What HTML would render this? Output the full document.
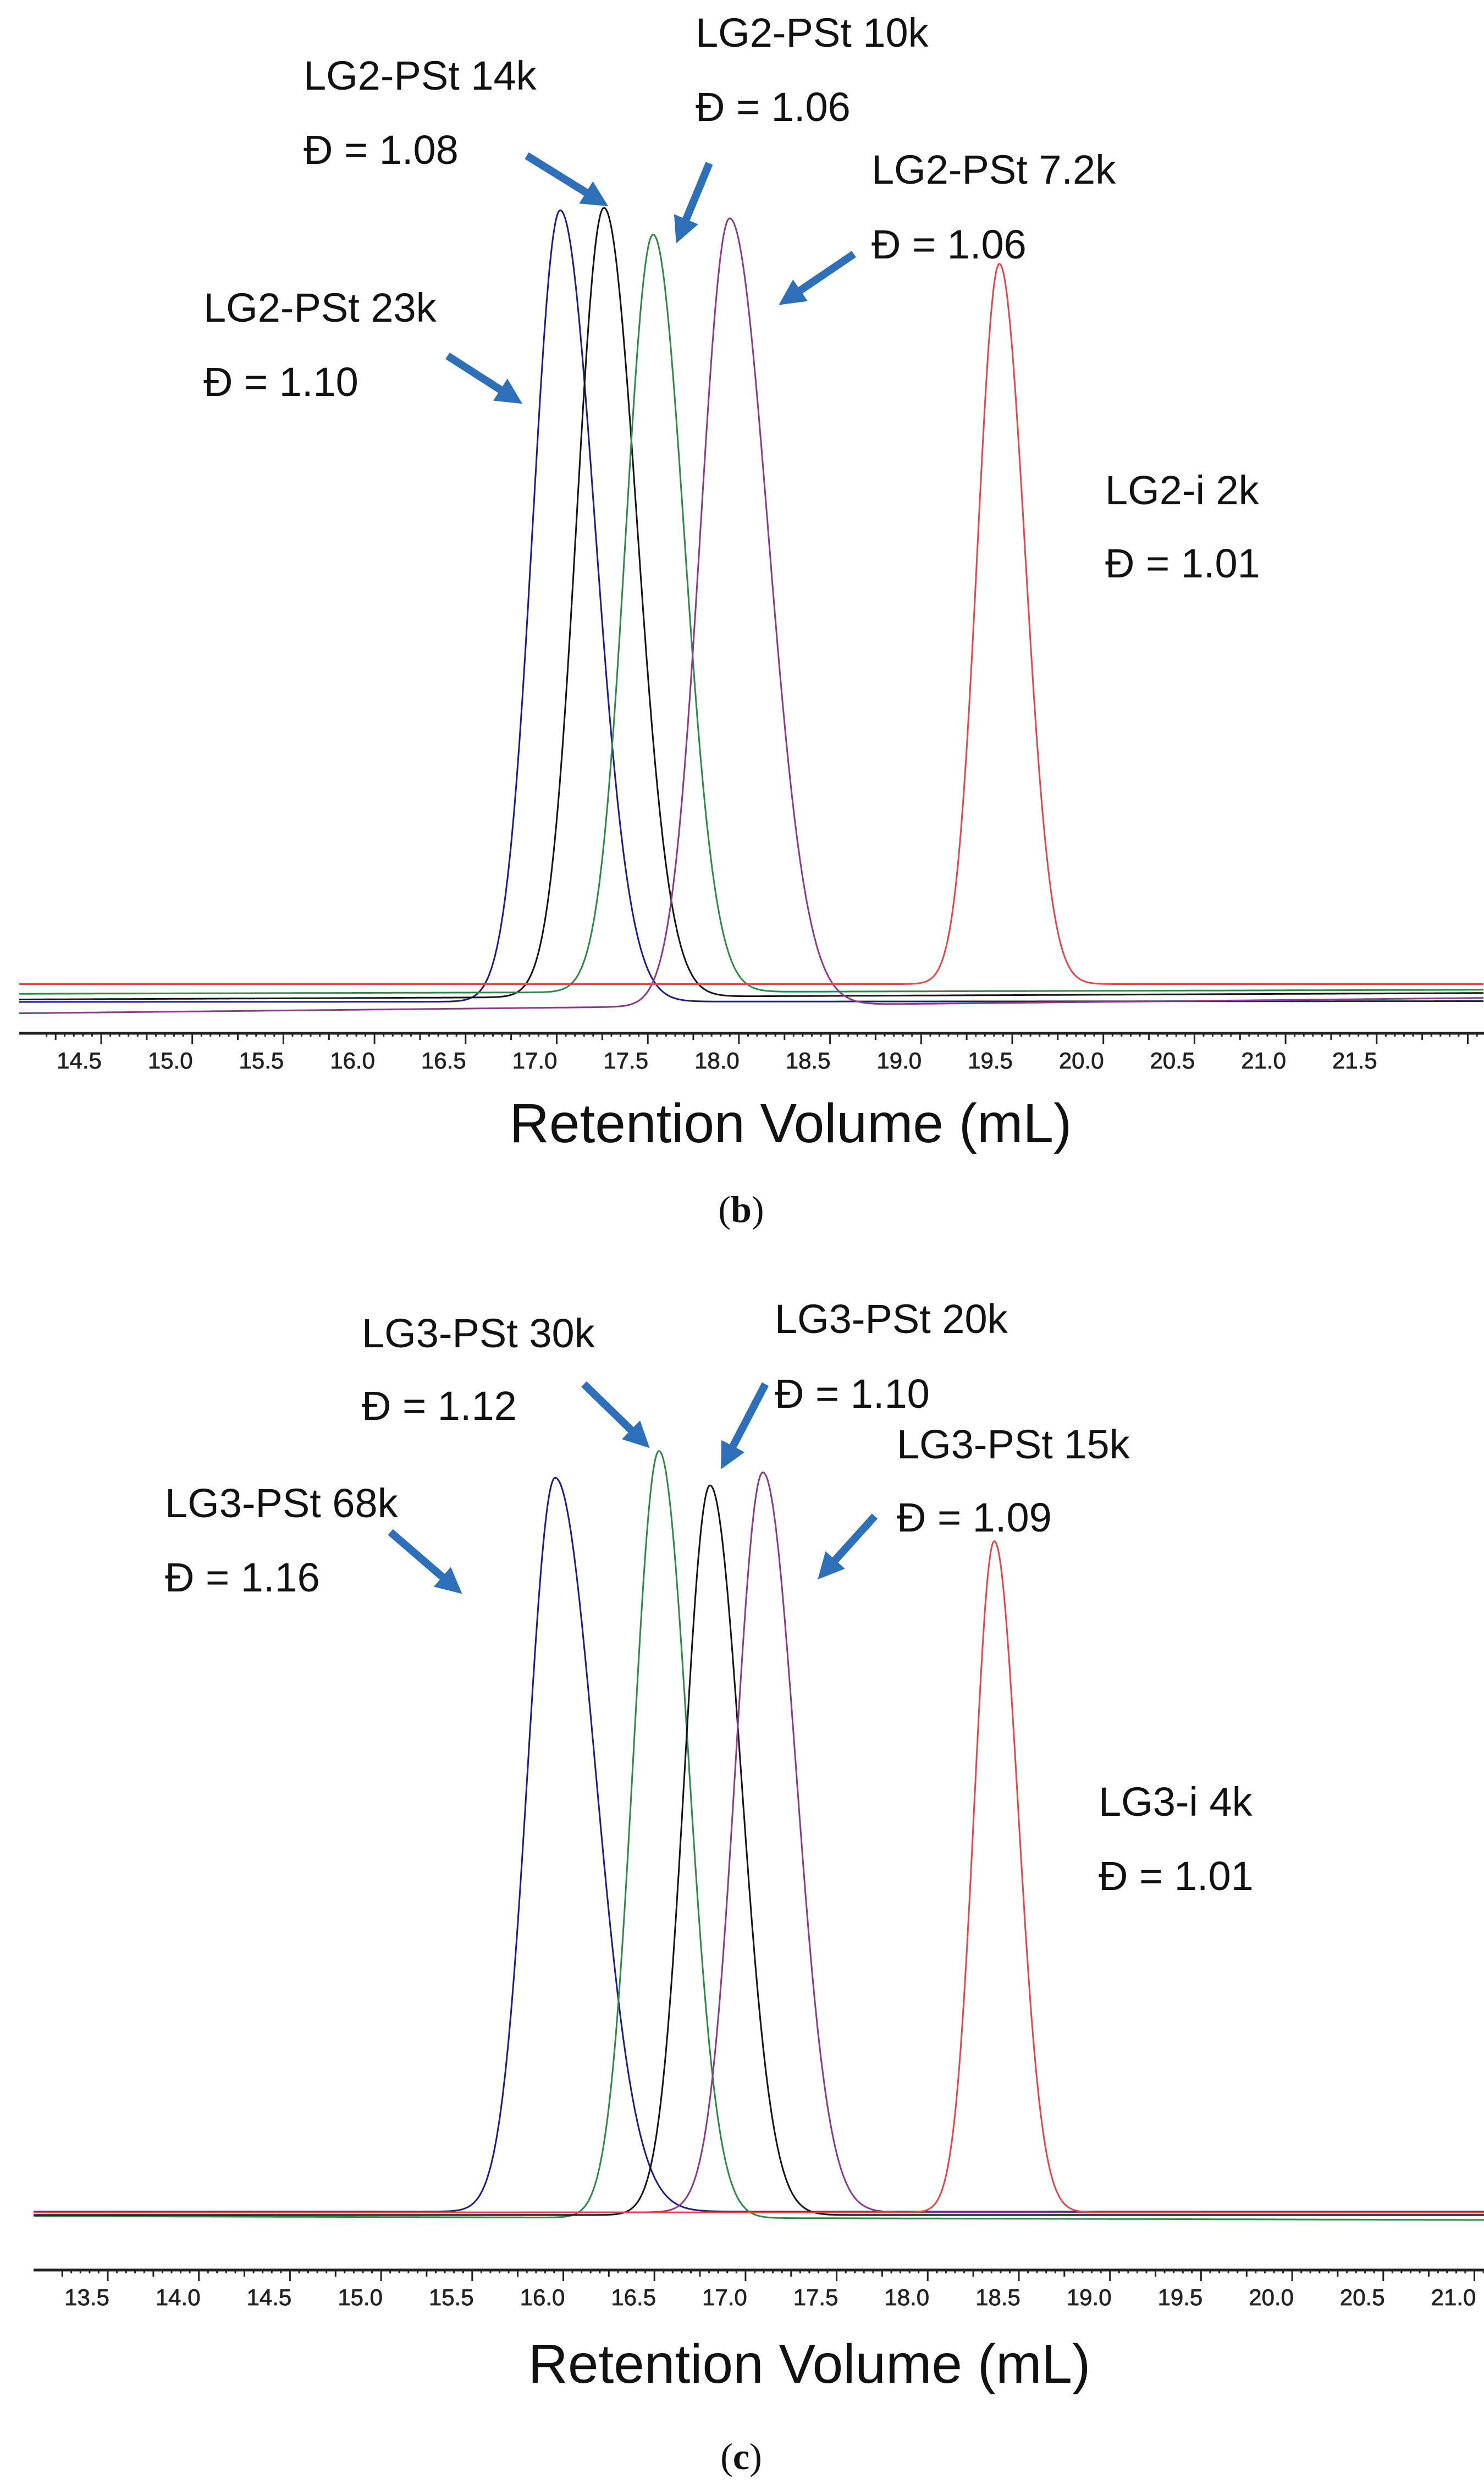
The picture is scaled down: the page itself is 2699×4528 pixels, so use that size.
<!DOCTYPE html>
<html><head><meta charset="utf-8">
<style>
html,body{margin:0;padding:0;background:#fff;}
svg{display:block;}
text{font-family:"Liberation Sans",sans-serif;}
</style></head>
<body>
<svg id="fig" width="2699" height="4528" viewBox="0 0 2699 4528" xmlns="http://www.w3.org/2000/svg">
<defs>
<marker id="ah" viewBox="0 0 10 10" refX="6" refY="5" markerWidth="3.4" markerHeight="3.4" orient="auto" markerUnits="strokeWidth">
<path d="M0,0 L10,5 L0,10 z" fill="#2e6fba"/>
</marker>
</defs>
<g id="panelB"></g>
<g id="panelC"></g>

<g font-size="74" fill="#111">
<text x="552" y="163">LG2-PSt 14k</text>
<text x="552" y="298">Đ = 1.08</text>
<text x="1265" y="85">LG2-PSt 10k</text>
<text x="1265" y="220">Đ = 1.06</text>
<text x="1585" y="334">LG2-PSt 7.2k</text>
<text x="1585" y="470">Đ = 1.06</text>
<text x="370" y="585">LG2-PSt 23k</text>
<text x="370" y="720">Đ = 1.10</text>
<text x="2010" y="917">LG2-i 2k</text>
<text x="2010" y="1050">Đ = 1.01</text>
</g>
<g stroke="#2e6fba" stroke-width="14" fill="none">
<line x1="814" y1="647" x2="934" y2="724" marker-end="url(#ah)"/>
<line x1="958" y1="283" x2="1090" y2="365" marker-end="url(#ah)"/>
<line x1="1290" y1="297" x2="1237" y2="425" marker-end="url(#ah)"/>
<line x1="1553" y1="462" x2="1432" y2="544" marker-end="url(#ah)"/>
</g>
<text x="1438" y="2077" font-size="100" text-anchor="middle" fill="#111">Retention Volume (mL)</text>
<text x="1348" y="2222" font-size="68" text-anchor="middle" fill="#111" style="font-family:'Liberation Serif',serif">(<tspan font-weight="bold">b</tspan>)</text>

<g font-size="74" fill="#111">
<text x="658" y="2450">LG3-PSt 30k</text>
<text x="658" y="2582">Đ = 1.12</text>
<text x="1409" y="2424">LG3-PSt 20k</text>
<text x="1409" y="2560">Đ = 1.10</text>
<text x="1631" y="2652">LG3-PSt 15k</text>
<text x="1631" y="2785">Đ = 1.09</text>
<text x="300" y="2759">LG3-PSt 68k</text>
<text x="300" y="2894">Đ = 1.16</text>
<text x="1998" y="3302">LG3-i 4k</text>
<text x="1998" y="3437">Đ = 1.01</text>
</g>
<g stroke="#2e6fba" stroke-width="14" fill="none">
<line x1="710" y1="2786" x2="826" y2="2886" marker-end="url(#ah)"/>
<line x1="1062" y1="2517" x2="1168" y2="2620" marker-end="url(#ah)"/>
<line x1="1392" y1="2517" x2="1320" y2="2655" marker-end="url(#ah)"/>
<line x1="1591" y1="2757" x2="1500" y2="2858" marker-end="url(#ah)"/>
</g>
<text x="1472" y="4333" font-size="100" text-anchor="middle" fill="#111">Retention Volume (mL)</text>
<text x="1348" y="4490" font-size="68" text-anchor="middle" fill="#111" style="font-family:'Liberation Serif',serif">(<tspan font-weight="bold">c</tspan>)</text>
</svg>
<script>
// ---------- Panel (b) data ----------
const bSeries = ["LG2-PSt 23k","LG2-PSt 14k","LG2-PSt 10k","LG2-PSt 7.2k","LG2-i 2k"];
const bPeakCenter = [17.14, 17.38, 17.65, 18.07, 19.55];
const bPeakHeight = [99.5, 99.8, 96.5, 98.5, 92.9];
const bSigmaLeft = [0.15, 0.15, 0.15, 0.16, 0.12];
const bSigmaRight = [0.19, 0.18, 0.17, 0.21, 0.14];
const bBaseStart = [1.9, 2.2, 2.9, 0.5, 4.1];
const bBaseEnd = [2.0, 3.0, 3.4, 2.4, 4.1];
const bTickLabels = ["14.5","15.0","15.5","16.0","16.5","17.0","17.5","18.0","18.5","19.0","19.5","20.0","20.5","21.0","21.5"];
// ---------- Panel (c) data ----------
const cSeries = ["LG3-PSt 68k","LG3-PSt 30k","LG3-PSt 20k","LG3-PSt 15k","LG3-i 4k"];
const cPeakCenter = [16.07, 16.64, 16.92, 17.21, 18.48];
const cPeakHeight = [96.6, 100.1, 95.6, 97.3, 88.3];
const cSigmaLeft = [0.15, 0.14, 0.14, 0.15, 0.11];
const cSigmaRight = [0.22, 0.16, 0.17, 0.18, 0.13];
const cBaseStart = [0.6, 0.0, 0.15, 0.5, 0.5];
const cBaseEnd = [0.6, -0.5, 0.15, 0.5, 0.5];
const cTickLabels = ["13.5","14.0","14.5","15.0","15.5","16.0","16.5","17.0","17.5","18.0","18.5","19.0","19.5","20.0","20.5","21.0"];

const bColors = ["#1e1e8a","#151515","#2f8a45","#8a3c8a","#e2474e"];
const cColors = ["#1e1e8a","#2f8a45","#151515","#8a3c8a","#e2474e"];
const NS = "http://www.w3.org/2000/svg";

function drawPanel(g, cfg){
  const xs = v => cfg.x0 + (v - cfg.v0) * cfg.pxPerUnit;
  const ys = s => cfg.yZero - s * cfg.pxPerSignal;
  const vMin = cfg.v0 + (cfg.left - cfg.x0) / cfg.pxPerUnit;
  const vMax = cfg.v0 + (cfg.right - cfg.x0) / cfg.pxPerUnit;
  const ax = document.createElementNS(NS,"line");
  
  
  ax.setAttribute("x1",cfg.left); ax.setAttribute("x2",cfg.right);
  ax.setAttribute("y1",cfg.axisY); ax.setAttribute("y2",cfg.axisY);
  ax.setAttribute("stroke","#222"); ax.setAttribute("stroke-width","5");
  g.appendChild(ax);
  let tp = "";
  const step = 0.05;
  const first = Math.ceil((vMin - cfg.v0)/step);
  const last = Math.floor((vMax - cfg.v0)/step);
  for(let i=first;i<=last;i++){
    const x = xs(cfg.v0 + i*step) + cfg.tickOffset;
    if (x < cfg.left || x > cfg.right) continue;
    const m = ((i % 10) + 10) % 10;
    const len = m === 0 ? 20 : (m === 5 ? 12 : 6);
    tp += "M"+x.toFixed(1)+","+cfg.axisY+"v"+len;
  }
  const tk = document.createElementNS(NS,"path");
  
  
  tk.setAttribute("d",tp); tk.setAttribute("stroke","#222"); tk.setAttribute("stroke-width","3");
  g.appendChild(tk);
  cfg.ticks.forEach(t=>{
    const tx = document.createElementNS(NS,"text");
    
    
    tx.setAttribute("x", xs(parseFloat(t)));
    tx.setAttribute("y", cfg.axisY + 64);
    tx.setAttribute("font-size","42");
    tx.setAttribute("text-anchor","middle");
    tx.setAttribute("fill","#222");
    tx.setAttribute("stroke","#222");
    tx.setAttribute("stroke-width","0.8");
    tx.textContent = t;
    g.appendChild(tx);
  });
  cfg.center.forEach((c,k)=>{
    let d = "";
    for(let v=vMin; v<=vMax+1e-9; v+=0.004){
      const t = (v - vMin)/(vMax - vMin);
      const base = cfg.bs[k] + (cfg.be[k]-cfg.bs[k])*t;
      const sg = v < c ? cfg.sl[k] : cfg.sr[k];
      const s = base + (cfg.h[k]-base) * Math.exp(-((v-c)*(v-c))/(2*sg*sg));
      d += (d ? "L" : "M") + xs(v).toFixed(1) + "," + ys(s).toFixed(1);
    }
    const p = document.createElementNS(NS,"path");
    
    
    p.setAttribute("d",d); p.setAttribute("fill","none");
    p.setAttribute("stroke",cfg.colors[k]); p.setAttribute("stroke-width","3");
    g.appendChild(p);
  });
}

drawPanel(document.getElementById("panelB"),{
  prefix:"panel-b", names:bSeries, colors:bColors, x0:144, v0:14.5, pxPerUnit:331.4, left:35, right:2699,
  yZero:1850, pxPerSignal:14.75, axisY:1879, tickOffset:40, ticks:bTickLabels,
  center:bPeakCenter, h:bPeakHeight, sl:bSigmaLeft, sr:bSigmaRight, bs:bBaseStart, be:bBaseEnd
});
drawPanel(document.getElementById("panelC"),{
  prefix:"panel-c", names:cSeries, colors:cColors, x0:158, v0:13.5, pxPerUnit:331.4, left:61, right:2699,
  yZero:4030, pxPerSignal:13.9, axisY:4128, tickOffset:38, ticks:cTickLabels,
  center:cPeakCenter, h:cPeakHeight, sl:cSigmaLeft, sr:cSigmaRight, bs:cBaseStart, be:cBaseEnd
});
</script>
</body></html>
